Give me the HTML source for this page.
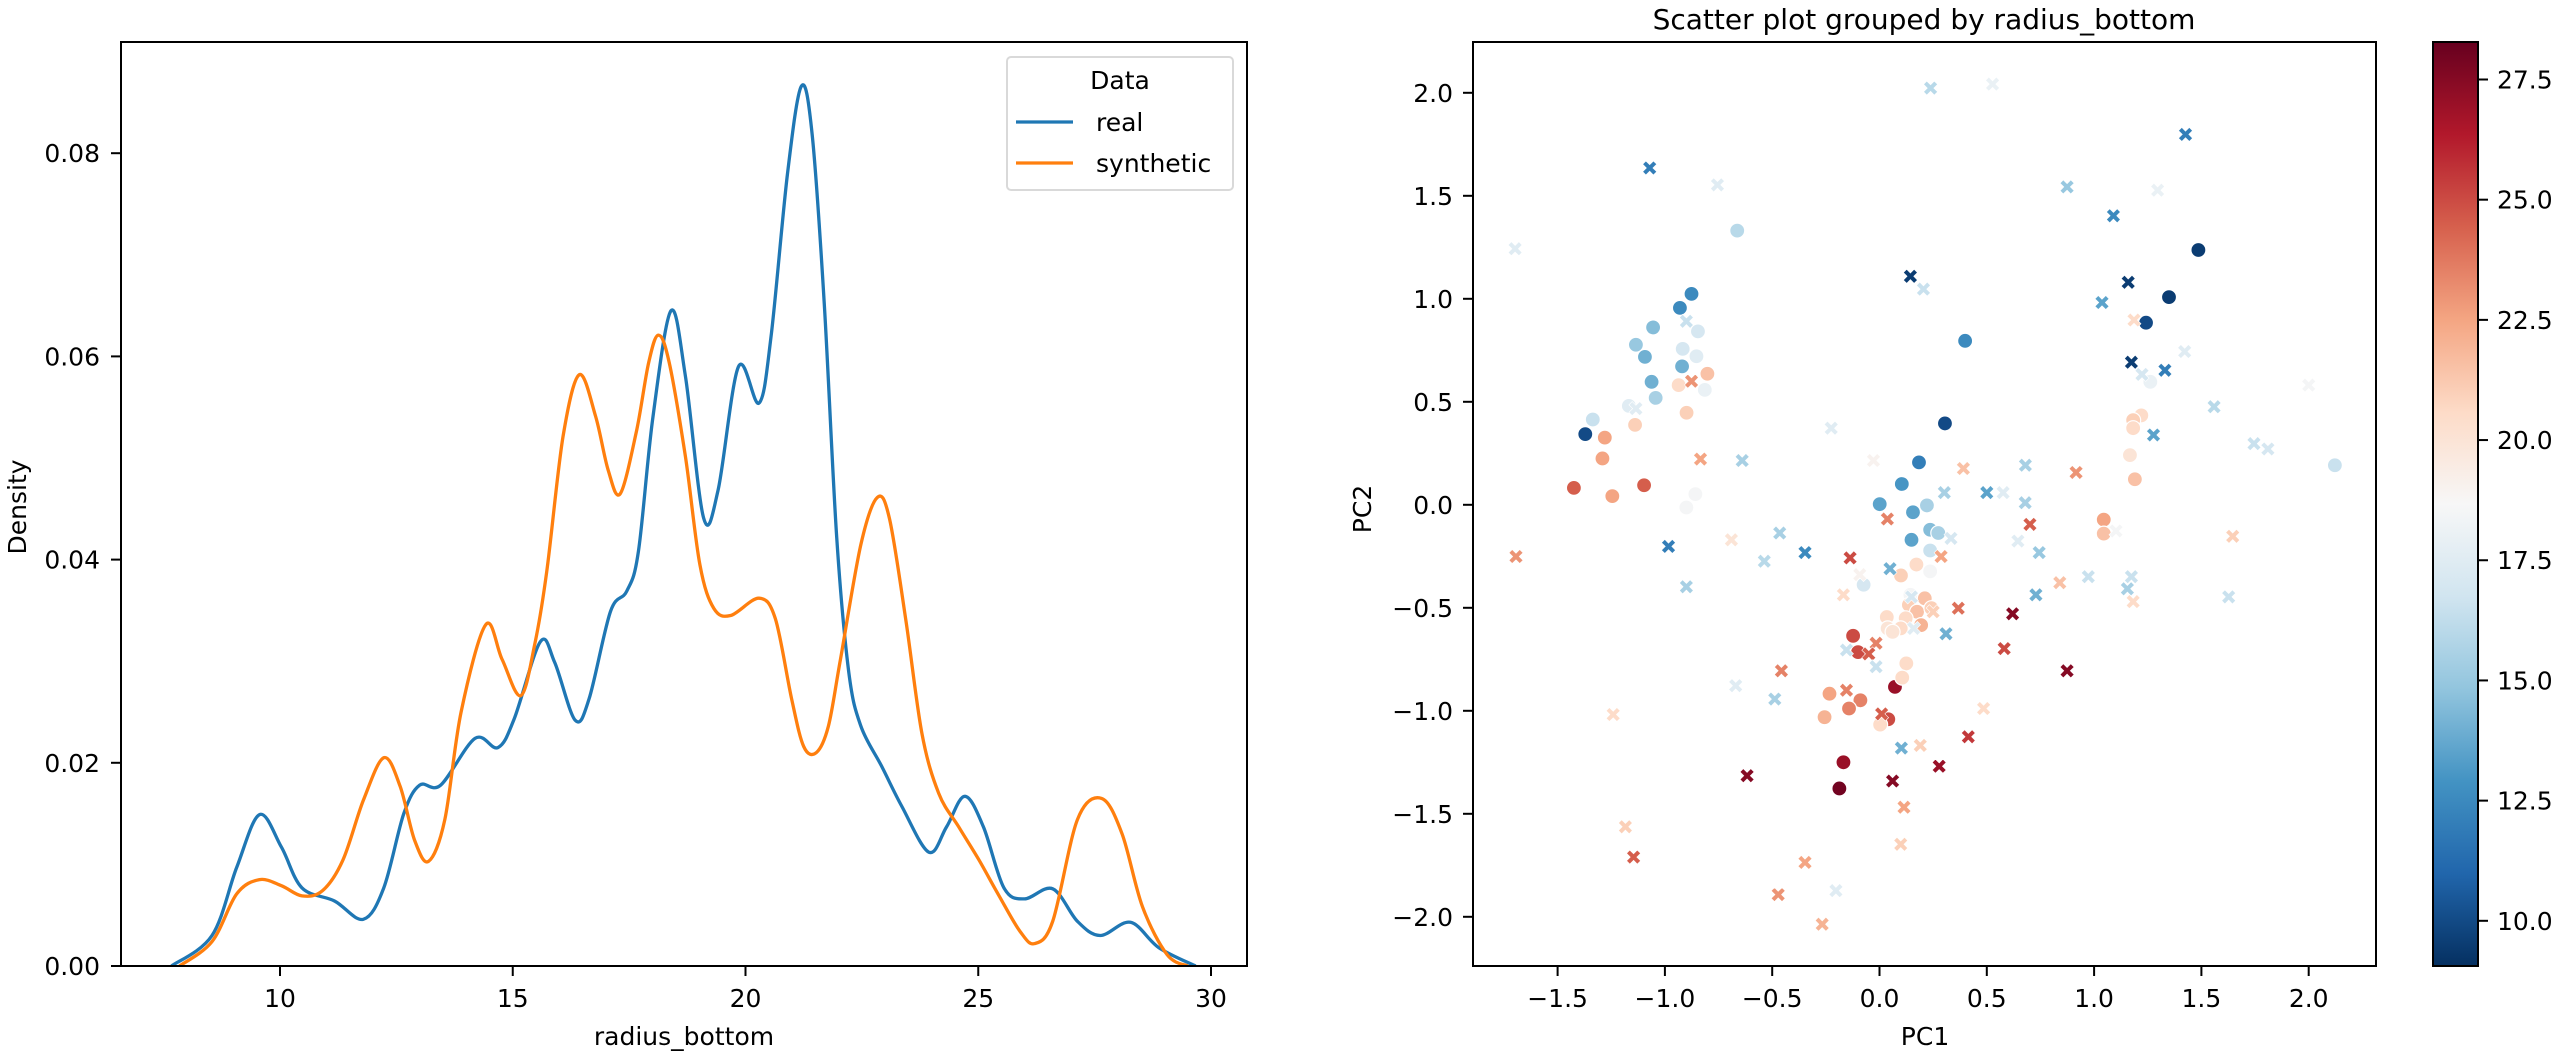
<!DOCTYPE html>
<html><head><meta charset="utf-8">
<style>
html,body{margin:0;padding:0;background:#fff;}
svg{display:block;font-family:"DejaVu Sans","Liberation Sans",sans-serif;}
</style></head>
<body>
<svg id="fig" width="2559" height="1054" viewBox="0 0 2559 1054" xmlns="http://www.w3.org/2000/svg">
<rect width="2559" height="1054" fill="#fff"/>
<defs>
<linearGradient id="cbgrad" x1="0" y1="1" x2="0" y2="0">
<stop offset="0" stop-color="#053061"/><stop offset="0.1" stop-color="#2166ac"/><stop offset="0.2" stop-color="#4393c3"/><stop offset="0.3" stop-color="#92c5de"/><stop offset="0.4" stop-color="#d1e5f0"/><stop offset="0.5" stop-color="#f7f7f7"/><stop offset="0.6" stop-color="#fddbc7"/><stop offset="0.7" stop-color="#f4a582"/><stop offset="0.8" stop-color="#d6604d"/><stop offset="0.9" stop-color="#b2182b"/><stop offset="1" stop-color="#67001f"/>
</linearGradient>
<clipPath id="clipL"><rect x="121" y="42" width="1126" height="924"/></clipPath>
<clipPath id="clipR"><rect x="1473" y="42" width="903" height="924"/></clipPath>
</defs>
<g id="left"></g>
<g id="right"></g>
</svg>
<script>
// ---- KDE data ----
const realX = [7.67,8.54,9.07,9.56,10.03,10.47,11.17,11.79,12.23,12.66,13.0,13.45,14.19,14.68,15.03,15.59,15.9,16.34,16.64,17.1,17.45,17.7,18.01,18.4,18.71,19.1,19.41,19.85,20.29,20.55,20.9,21.2,21.43,21.69,21.96,22.22,22.48,22.92,23.36,23.94,24.32,24.71,25.11,25.55,25.99,26.6,27.13,27.62,28.27,28.88,29.67];
const realY = [0,0.003,0.0097,0.0149,0.0117,0.0077,0.0064,0.0046,0.0077,0.015,0.0178,0.0178,0.0224,0.0215,0.0243,0.0319,0.0299,0.0242,0.0263,0.0349,0.0369,0.0408,0.054,0.0645,0.058,0.0441,0.0468,0.059,0.0554,0.062,0.0779,0.0866,0.0819,0.0653,0.0422,0.0289,0.0236,0.0197,0.0157,0.0112,0.0137,0.0167,0.0137,0.0077,0.0066,0.0076,0.0044,0.003,0.0043,0.0018,0];
const synX = [7.84,8.54,9.07,9.56,10.03,10.47,10.91,11.35,11.79,12.23,12.58,12.89,13.19,13.54,13.89,14.42,14.77,15.17,15.47,15.73,16.08,16.43,16.78,17.05,17.31,17.66,17.92,18.13,18.36,18.71,19.02,19.32,19.68,20.29,20.64,20.99,21.25,21.52,21.78,22.04,22.48,22.83,23.09,23.44,23.79,24.15,24.58,25.02,25.46,25.9,26.21,26.6,27.13,27.65,28.09,28.53,29.06,29.5];
const synY = [0,0.0024,0.0071,0.0085,0.0079,0.0069,0.0074,0.0104,0.0163,0.0205,0.0177,0.0124,0.0103,0.0144,0.025,0.0336,0.0302,0.0266,0.0316,0.0388,0.0521,0.0582,0.0541,0.0488,0.0465,0.0527,0.0594,0.0621,0.0594,0.0501,0.0395,0.0352,0.0345,0.0362,0.0342,0.0263,0.0216,0.021,0.0236,0.0302,0.0415,0.0461,0.0441,0.0342,0.0229,0.017,0.0137,0.0104,0.0068,0.0034,0.0022,0.0044,0.0144,0.0165,0.013,0.0058,0.0011,0];
const kdeXTicks = [10,15,20,25,30];
const kdeYTicks = [0,0.02,0.04,0.06,0.08];
const kdeYTickLabels = ["0.00","0.02","0.04","0.06","0.08"];

// ---- scatter data: real (circles) ----
const realPC1 = [-0.663,-0.876,-0.93,-1.055,-0.846,-1.135,-0.917,-1.093,-0.853,-0.92,-0.802,-1.062,-0.936,-0.814,-1.043,-1.168,-1.336,-1.139,-0.899,-1.371,-1.28,-1.291,-1.424,-1.097,-1.245,-0.858,-0.9,0.305,0.184,0.104,0.001,0.221,0.156,0.149,0.236,0.274,0.236,0.236,0.1,-0.074,0.172,0.144,0.211,0.137,0.175,0.242,0.122,0.034,0.038,0.099,0.194,0.061,-0.123,-0.1,0.125,0.072,0.106,-0.233,-0.089,-0.142,-0.256,0.041,0.003,-0.168,-0.187,1.486,1.349,1.242,1.262,1.22,1.182,1.182,1.167,1.19,1.045,1.045,2.122,0.399];
const realPC2 = [1.331,1.024,0.956,0.861,0.842,0.777,0.757,0.718,0.721,0.672,0.636,0.597,0.581,0.558,0.519,0.48,0.414,0.388,0.447,0.343,0.326,0.225,0.082,0.095,0.042,0.052,-0.013,0.395,0.206,0.101,0.003,-0.003,-0.036,-0.17,-0.121,-0.137,-0.222,-0.323,-0.343,-0.388,-0.29,-0.437,-0.454,-0.486,-0.519,-0.502,-0.551,-0.545,-0.6,-0.6,-0.584,-0.617,-0.636,-0.715,-0.77,-0.884,-0.839,-0.917,-0.949,-0.989,-1.031,-1.041,-1.067,-1.25,-1.377,1.237,1.008,0.884,0.597,0.434,0.411,0.372,0.241,0.124,-0.072,-0.14,0.192,0.796];
const realVal = [16,12.5,12.5,14.5,17,15,17,14,17.5,14,21.5,14,20.5,18,15.5,17.5,16.5,21,21,10,22.5,22.5,24.5,24.5,22.5,18.5,18.5,10,12,13,13.5,15.5,13.5,13.5,14.5,15.5,16.5,18.5,21,17,20.5,18.5,21.5,21,21.5,21,20.5,20.5,20,20.5,22,20,25,25,20.5,27,20.5,22.5,23.5,23.5,22,25,20.5,27,28,9.5,9.5,10,18,20.5,21,20.5,20,21.5,22.5,21.5,16.5,12.5];
// ---- scatter data: synthetic (x markers) ----
const synPC1 = [0.238,0.527,1.426,-1.071,-0.755,0.874,1.296,1.09,-1.698,0.144,0.205,1.159,1.037,1.186,-0.9,1.422,1.174,1.33,1.223,-1.135,-0.876,2.0,1.559,1.277,-0.225,1.745,1.81,-0.834,-0.64,-0.028,0.391,0.68,0.916,0.302,0.5,0.576,0.679,0.037,0.701,1.102,1.646,-1.694,-0.983,-0.69,-0.465,-0.537,-0.347,-0.137,0.287,0.333,0.645,0.744,0.049,-0.092,0.973,1.174,1.155,0.84,-0.168,0.149,0.729,1.627,1.182,-0.9,0.367,0.62,0.25,0.159,0.31,0.581,-0.154,-0.016,-0.05,0.874,-0.457,-0.016,-0.67,-0.154,-0.488,0.485,0.01,-1.241,0.414,0.19,0.102,-0.617,0.061,0.278,0.114,-1.184,0.099,-1.146,-0.347,-0.203,-0.472,-0.267];
const synPC2 = [2.023,2.042,1.798,1.635,1.553,1.543,1.527,1.403,1.243,1.109,1.047,1.08,0.982,0.897,0.891,0.744,0.692,0.653,0.633,0.467,0.6,0.581,0.476,0.339,0.372,0.297,0.271,0.222,0.215,0.215,0.176,0.192,0.157,0.059,0.059,0.059,0.01,-0.069,-0.095,-0.127,-0.153,-0.251,-0.202,-0.17,-0.137,-0.274,-0.232,-0.258,-0.251,-0.163,-0.176,-0.232,-0.31,-0.339,-0.349,-0.349,-0.408,-0.378,-0.437,-0.447,-0.437,-0.447,-0.47,-0.398,-0.502,-0.529,-0.519,-0.6,-0.626,-0.698,-0.705,-0.672,-0.724,-0.806,-0.806,-0.786,-0.878,-0.9,-0.943,-0.989,-1.015,-1.018,-1.126,-1.168,-1.181,-1.315,-1.341,-1.269,-1.468,-1.563,-1.648,-1.71,-1.736,-1.873,-1.892,-2.036];
const synVal = [16,18,12,12,17.5,15,18,12.5,17.5,9.5,16.5,9.5,13.5,20.5,16.5,17.5,9.5,12,17,17.5,23,18.5,16,13.5,17.5,16.5,17,22.5,15.5,19,21.5,15.5,23,15.5,13.5,17.5,15.5,23.5,24.5,18.5,21,23,12,20,15.5,16,12.5,25,22.5,17,17.5,15,14,19,16.5,16.5,15.5,21.5,20.5,17,14,16.5,20.5,15.5,24,27.5,21,17.5,14,25,16.5,23.5,24.5,27.5,23.5,16.5,17.5,23.5,15.5,20.5,24.5,20.5,25.5,21,14,27.5,27.5,27,22.5,21,21,24.5,22.5,17.5,23,22];
const pcXTicks = [-1.5,-1.0,-0.5,0.0,0.5,1.0,1.5,2.0];
const pcYTicks = [-2.0,-1.5,-1.0,-0.5,0.0,0.5,1.0,1.5,2.0];
const cbTicks = [10.0,12.5,15.0,17.5,20.0,22.5,25.0,27.5];

const NS = "http://www.w3.org/2000/svg";
function mk(parent, tag, attrs, text){const e=document.createElementNS(NS,tag);for(const k in attrs)e.setAttribute(k,attrs[k]);if(text!==undefined)e.textContent=text;parent.appendChild(e);return e;}

// ===== Left KDE =====
const L = document.getElementById('left');
const lx = v => 280 + (v-10)*46.55;
const ly = v => 966 - v*10160;
function smoothPath(xs, ys){
  const p = xs.map((x,i)=>[lx(x),ly(ys[i])]);
  let d = `M${p[0][0].toFixed(1)},${p[0][1].toFixed(1)}`;
  for(let i=0;i<p.length-1;i++){
    const p0=p[Math.max(0,i-1)],p1=p[i],p2=p[i+1],p3=p[Math.min(p.length-1,i+2)];
    const c1=[p1[0]+(p2[0]-p0[0])/6,p1[1]+(p2[1]-p0[1])/6];
    const c2=[p2[0]-(p3[0]-p1[0])/6,p2[1]-(p3[1]-p1[1])/6];
    d+=` C${c1[0].toFixed(1)},${c1[1].toFixed(1)} ${c2[0].toFixed(1)},${c2[1].toFixed(1)} ${p2[0].toFixed(1)},${p2[1].toFixed(1)}`;
  }
  return d;
}
const gl = mk(L,'g',{'clip-path':'url(#clipL)'});
const lineReal = mk(gl,'path',{d:smoothPath(realX,realY),fill:'none',stroke:'#1f77b4','stroke-width':3.3,'stroke-linejoin':'round'});


const lineSyn = mk(gl,'path',{d:smoothPath(synX,synY),fill:'none',stroke:'#ff7f0e','stroke-width':3.3,'stroke-linejoin':'round'});


const frameL = mk(L,'rect',{x:121,y:42,width:1126,height:924,fill:'none',stroke:'#000','stroke-width':2});


kdeXTicks.forEach(t=>{
  const x=lx(t);
  mk(L,'line',{x1:x,y1:966,x2:x,y2:976,stroke:'#000','stroke-width':2});
  const tx=mk(L,'text',{x:x,y:1007,'font-size':25,'text-anchor':'middle'},String(t));
  
  
});
kdeYTicks.forEach((t,i)=>{
  const y=ly(t);
  mk(L,'line',{x1:111,y1:y,x2:121,y2:y,stroke:'#000','stroke-width':2});
  const tx=mk(L,'text',{x:100,y:y+9,'font-size':25,'text-anchor':'end'},kdeYTickLabels[i]);
  
  
});
const xl=mk(L,'text',{x:684,y:1045,'font-size':25,'text-anchor':'middle'},'radius_bottom');


const yl=mk(L,'text',{x:0,y:0,'font-size':25,'text-anchor':'middle',transform:'translate(26,507) rotate(-90)'},'Density');


// legend
const lg = mk(L,'g',{});


mk(lg,'rect',{x:1007,y:57,width:226,height:133,rx:4,fill:'#fff','fill-opacity':0.8,stroke:'#d9d9d9','stroke-width':2});
mk(lg,'text',{x:1120,y:89,'font-size':25,'text-anchor':'middle'},'Data');
mk(lg,'line',{x1:1016,y1:122,x2:1073,y2:122,stroke:'#1f77b4','stroke-width':3.3});
mk(lg,'text',{x:1096,y:131,'font-size':25},'real');
mk(lg,'line',{x1:1016,y1:163,x2:1073,y2:163,stroke:'#ff7f0e','stroke-width':3.3});
mk(lg,'text',{x:1096,y:172,'font-size':25},'synthetic');

// ===== Right scatter =====
const R = document.getElementById('right');
const px = v => 1879.5 + v*214.6;
const py = v => 504.8 - v*206;
const VMIN=9.06, VMAX=28.28;
const stops=['#053061','#2166ac','#4393c3','#92c5de','#d1e5f0','#f7f7f7','#fddbc7','#f4a582','#d6604d','#b2182b','#67001f'].map(h=>[parseInt(h.substr(1,2),16),parseInt(h.substr(3,2),16),parseInt(h.substr(5,2),16)]);
function cmap(v){
  let t=(v-VMIN)/(VMAX-VMIN); t=Math.max(0,Math.min(1,t))*10;
  const i=Math.min(9,Math.floor(t)), f=t-i;
  const c=stops[i].map((a,k)=>Math.round(a+(stops[i+1][k]-a)*f));
  return `rgb(${c[0]},${c[1]},${c[2]})`;
}
const gr = mk(R,'g',{'clip-path':'url(#clipR)'});
// interleave drawing: real then synthetic (approx seaborn order)
realPC1.forEach((v,i)=>{
  const c=mk(gr,'circle',{cx:px(v),cy:py(realPC2[i]),r:7.5,fill:cmap(realVal[i]),stroke:'#fff','stroke-width':1.2});
  
  
});
function xShape(cx,cy,s,w){
  const a=s/2, b=w/2*Math.SQRT2/2*1.0;
  const h=w/Math.SQRT2;
  const pts=[[0,-h],[a-h,-a],[a,-a+h],[h,0],[a,a-h],[a-h,a],[0,h],[-a+h,a],[-a,a-h],[-h,0],[-a,-a+h],[-a+h,-a]];
  return pts.map(p=>`${(cx+p[0]).toFixed(1)},${(cy+p[1]).toFixed(1)}`).join(' ');
}
synPC1.forEach((v,i)=>{
  const p=mk(gr,'polygon',{points:xShape(px(v),py(synPC2[i]),14,4.6),fill:cmap(synVal[i]),stroke:'#fff','stroke-width':0.6});
  
  
});
const frameR=mk(R,'rect',{x:1473,y:42,width:903,height:924,fill:'none',stroke:'#000','stroke-width':2});


pcXTicks.forEach(t=>{
  const x=px(t);
  mk(R,'line',{x1:x,y1:966,x2:x,y2:976,stroke:'#000','stroke-width':2});
  const tx=mk(R,'text',{x:x,y:1007,'font-size':25,'text-anchor':'middle'},(t<0?'\u2212':'')+Math.abs(t).toFixed(1));
  
  
});
pcYTicks.forEach(t=>{
  const y=py(t);
  mk(R,'line',{x1:1463,y1:y,x2:1473,y2:y,stroke:'#000','stroke-width':2});
  const tx=mk(R,'text',{x:1453,y:y+9,'font-size':25,'text-anchor':'end'},(t<0?'\u2212':'')+Math.abs(t).toFixed(1));
  
  
});
const t1=mk(R,'text',{x:1925,y:1045,'font-size':25,'text-anchor':'middle'},'PC1');


const t2=mk(R,'text',{x:0,y:0,'font-size':25,'text-anchor':'middle',transform:'translate(1371,509) rotate(-90)'},'PC2');


const tt=mk(R,'text',{x:1924,y:29,'font-size':28,'text-anchor':'middle'},'Scatter plot grouped by radius_bottom');


// colorbar
const cy = v => 966 - (v-VMIN)/(VMAX-VMIN)*924;
const cb=mk(R,'rect',{x:2433,y:42,width:45,height:924,fill:'url(#cbgrad)',stroke:'#000','stroke-width':2});


cbTicks.forEach(t=>{
  const y=cy(t);
  mk(R,'line',{x1:2478,y1:y,x2:2488,y2:y,stroke:'#000','stroke-width':2});
  const tx=mk(R,'text',{x:2497,y:y+9,'font-size':25},t.toFixed(1));
  
  
});
</script>
</body></html>
